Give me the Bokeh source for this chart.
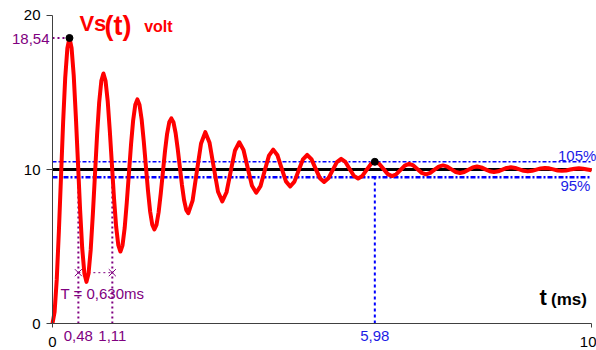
from bokeh.plotting import figure
from bokeh.models import Range1d, FixedTicker, Label
from bokeh.embed import file_html
from bokeh.resources import INLINE

# ---- data ----
t_ms = [
    0.000, 0.039, 0.079, 0.118, 0.158, 0.197, 0.236, 0.276,
    0.315, 0.354, 0.394, 0.433, 0.473, 0.512, 0.551, 0.591,
    0.630, 0.669, 0.709, 0.748, 0.788, 0.827, 0.866, 0.906,
    0.945, 0.984, 1.024, 1.063, 1.103, 1.142, 1.181, 1.221,
    1.260, 1.299, 1.339, 1.378, 1.418, 1.457, 1.496, 1.536,
    1.575, 1.614, 1.654, 1.693, 1.733, 1.772, 1.811, 1.851,
    1.890, 1.929, 1.969, 2.008, 2.048, 2.087, 2.126, 2.166,
    2.205, 2.244, 2.284, 2.323, 2.363, 2.402, 2.441, 2.481,
    2.520, 2.599, 2.678, 2.756, 2.835, 2.914, 2.993, 3.071,
    3.150, 3.229, 3.308, 3.386, 3.465, 3.544, 3.623, 3.701,
    3.780, 3.859, 3.938, 4.016, 4.095, 4.174, 4.253, 4.331,
    4.410, 4.489, 4.568, 4.646, 4.725, 4.804, 4.883, 4.961,
    5.040, 5.119, 5.198, 5.276, 5.355, 5.434, 5.513, 5.591,
    5.670, 5.749, 5.828, 5.906, 5.985, 6.064, 6.143, 6.221,
    6.300, 6.379, 6.458, 6.536, 6.615, 6.694, 6.773, 6.851,
    6.930, 7.009, 7.088, 7.166, 7.245, 7.324, 7.403, 7.481,
    7.560, 7.639, 7.718, 7.796, 7.875, 7.954, 8.033, 8.111,
    8.190, 8.269, 8.348, 8.426, 8.505, 8.584, 8.663, 8.741,
    8.820, 8.899, 8.978, 9.056, 9.135, 9.214, 9.293, 9.371,
    9.450, 9.529, 9.608, 9.686, 9.765, 9.844, 9.923, 10.001,
]
vs_volt = [
    0.000, 0.754, 2.862, 5.957, 9.538, 13.050, 15.969, 17.883,
    18.543, 17.899, 16.098, 13.454, 10.395, 7.395, 4.901, 3.266,
    2.702, 3.252, 4.791, 7.049, 9.663, 12.226, 14.356, 15.753,
    16.235, 15.765, 14.450, 12.521, 10.288, 8.099, 6.279, 5.085,
    4.674, 5.076, 6.198, 7.847, 9.754, 11.624, 13.179, 14.199,
    14.550, 14.207, 13.248, 11.839, 10.210, 8.613, 7.284, 6.413,
    6.113, 6.406, 7.225, 8.429, 9.820, 11.185, 12.320, 13.064,
    13.320, 13.070, 12.370, 11.342, 10.153, 8.987, 8.018, 7.382,
    7.163, 7.975, 9.869, 11.693, 12.423, 11.730, 10.112, 8.554,
    7.930, 8.522, 9.904, 11.236, 11.768, 11.262, 10.082, 8.944,
    8.489, 8.922, 9.930, 10.902, 11.291, 10.921, 10.060, 9.230,
    8.898, 9.213, 9.949, 10.658, 10.942, 10.672, 10.044, 9.438,
    9.195, 9.426, 9.963, 10.480, 10.687, 10.491, 10.032, 9.590,
    9.413, 9.581, 9.973, 10.350, 10.502, 10.358, 10.023, 9.701,
    9.572, 9.694, 9.980, 10.256, 10.366, 10.261, 10.017, 9.781,
    9.687, 9.777, 9.986, 10.187, 10.267, 10.191, 10.012, 9.841,
    9.772, 9.837, 9.989, 10.136, 10.195, 10.139, 10.009, 9.884,
    9.833, 9.881, 9.992, 10.099, 10.142, 10.102, 10.007, 9.915,
    9.878, 9.913, 9.994, 10.073, 10.104, 10.074, 10.005, 9.938,
    9.911, 9.937, 9.996, 10.053, 10.076, 10.054, 10.004, 9.955,
]
x_ticks = [0, 10]
y_ticks = [0, 10, 20]
final_value = 10.0
band_high = 10.5
band_low = 9.5
band_labels = ["105%", "95%"]
peak_t = 0.315
peak_v = 18.54
peak_label = "18,54"
cross_t = [0.48, 1.11]
cross_labels = ["0,48", "1,11"]
period_mark_v = 3.3
period_label = "T = 0,630ms"
settle_t = 5.98
settle_v = 10.5
settle_label = "5,98"

FONT = "Liberation Sans"
RED = "#ff0000"
PURPLE = "#800080"
BLUE = "#0000ff"
BLUE_TXT = "#1c1ce6"

# The frame fills the whole canvas; axes sit at fixed data positions (t=0, v=0)
# so that annotations outside the 0..10 / 0..20 box stay visible.
p = figure(width=596, height=350,
           x_range=Range1d(-0.9647, 10.0928), y_range=Range1d(-1.7532, 20.974),
           output_backend="svg", toolbar_location=None,
           min_border_left=0, min_border_right=0, min_border_top=0, min_border_bottom=0)
p.xgrid.visible = False
p.ygrid.visible = False
p.outline_line_color = None
p.background_fill_color = "white"
p.border_fill_color = "white"

# axes
p.xaxis.fixed_location = 0
p.xaxis.bounds = (x_ticks[0], x_ticks[-1])
p.xaxis.ticker = FixedTicker(ticks=x_ticks)
p.xaxis.major_tick_out = 4
p.xaxis.major_tick_in = 0
p.xaxis.minor_tick_line_color = None
p.xaxis.major_label_standoff = 9
p.xaxis.major_label_text_font = FONT
p.xaxis.major_label_text_font_size = "15px"
p.xaxis.major_label_text_color = "black"
p.xaxis.axis_line_color = "#404040"
p.xaxis.major_tick_line_color = "#404040"

p.yaxis.fixed_location = 0
p.yaxis.bounds = (y_ticks[0], y_ticks[-1])
p.yaxis.ticker = FixedTicker(ticks=y_ticks)
p.yaxis.major_tick_out = 6
p.yaxis.major_tick_in = 0
p.yaxis.minor_tick_line_color = None
p.yaxis.major_label_standoff = 6
p.yaxis.major_label_text_font = FONT
p.yaxis.major_label_text_font_size = "15px"
p.yaxis.major_label_text_color = "black"
p.yaxis.axis_line_color = "#404040"
p.yaxis.major_tick_line_color = "#404040"

# 95% / 105% band
p.line([0, 10], [band_high, band_high], line_color=BLUE, line_width=1.5, line_dash="4 2 2 2")
p.line([0, 10], [band_low, band_low], line_color=BLUE, line_width=2.5, line_dash="5 2 2 2")
# settling time vertical
p.line([settle_t, settle_t], [0, band_low], line_color=BLUE, line_width=2, line_dash="3 3")
# period vertical lines
for ct in cross_t:
    p.line([ct, ct], [0, final_value], line_color=PURPLE, line_width=2, line_dash="2 3")
p.line(cross_t, [period_mark_v, period_mark_v], line_color=PURPLE, line_width=1, line_dash="2 3")
p.scatter(cross_t, [period_mark_v, period_mark_v], marker="x", size=10,
          line_color=PURPLE, line_width=1)
# peak dotted guide
p.line([0, peak_t], [peak_v, peak_v], line_color=PURPLE, line_width=2, line_dash="2 3")

# final value line
p.line([0, 10], [final_value, final_value], line_color="black", line_width=3)

# response curve
p.line(t_ms, vs_volt, line_color=RED, line_width=4, line_join="round")

# markers
p.scatter([peak_t, settle_t], [peak_v, settle_v], marker="circle", size=7,
          fill_color="black", line_color="black")

def lab(x, y, text, color, size, style="normal", align="left"):
    p.add_layout(Label(x=x, y=y, text=text, text_color=color, text_font=FONT,
                       text_font_size=size, text_font_style=style,
                       text_align=align, text_baseline="middle"))

lab(-0.056, peak_v - 0.05, peak_label, PURPLE, "15px", align="right")
for ct, cl in zip(cross_t, cross_labels):
    lab(ct, -0.78, cl, PURPLE, "15px", align="center")
lab(settle_t, -0.78, settle_label, BLUE_TXT, "15px", align="center")

lab(0.148, 1.95, period_label, PURPLE, "15px")
lab(10.09, 10.94, band_labels[0], BLUE_TXT, "15px", align="right")
lab(9.98, 8.94, band_labels[1], BLUE_TXT, "15px", align="right")

# title
lab(0.50, 19.49, "Vs", RED, "22px", style="bold")
lab(0.965, 19.30, "(t)", RED, "27px", style="bold")
lab(1.70, 19.27, "volt", RED, "16px", style="bold")

# axis title
lab(9.035, 1.69, "t", "black", "22px", style="bold")
lab(9.25, 1.59, "(ms)", "black", "17px", style="bold")

open("out.html", "w").write(file_html(p, INLINE))
